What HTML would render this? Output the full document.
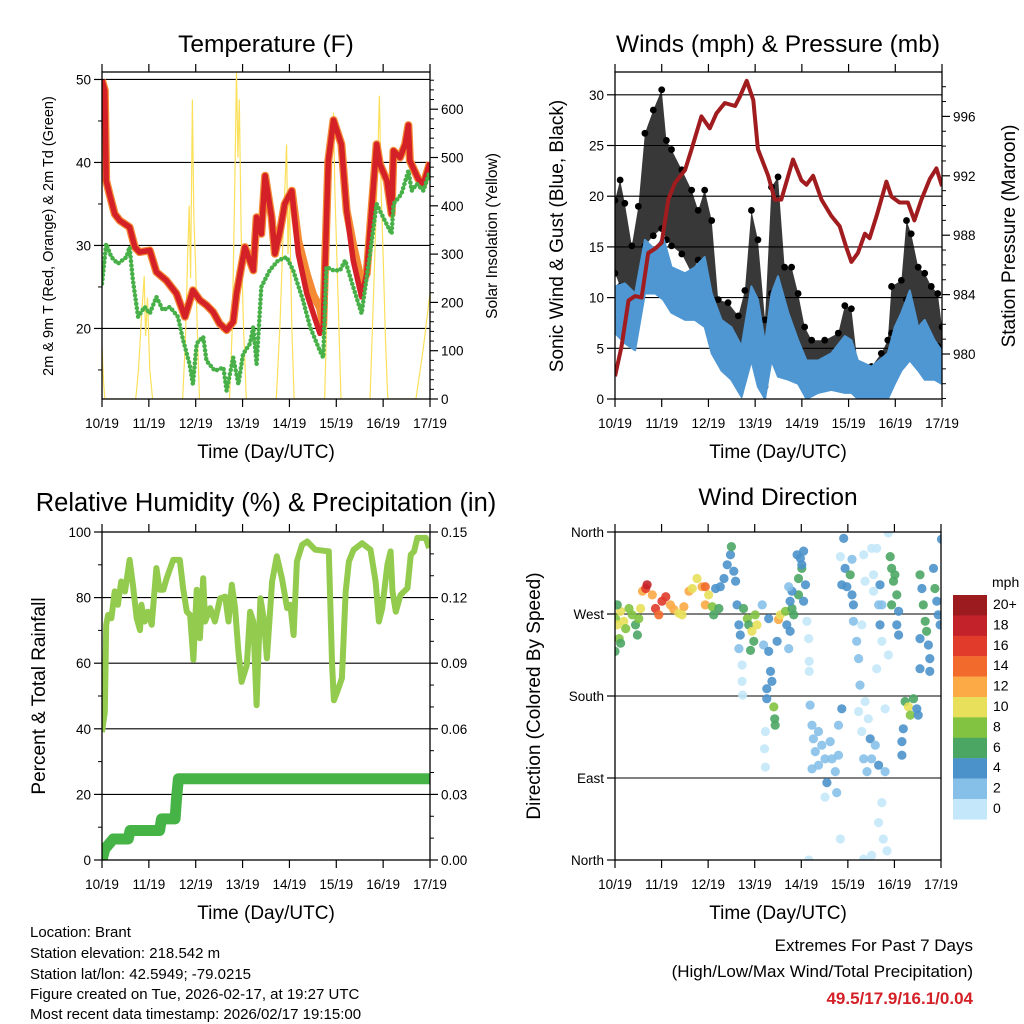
<!DOCTYPE html>
<html><head><meta charset="utf-8"><style>
html,body{margin:0;padding:0;background:#fff;}
svg{display:block;font-family:"Liberation Sans",sans-serif;}
</style></head><body>
<svg id="chart" width="1024" height="1024" viewBox="0 0 1024 1024" xmlns="http://www.w3.org/2000/svg">
<defs>
<clipPath id="cp1"><rect x="102" y="72" width="328" height="327"/></clipPath>
<clipPath id="cp2"><rect x="615" y="72" width="327" height="327"/></clipPath>
<clipPath id="cp3"><rect x="102" y="532" width="328" height="328"/></clipPath>
<clipPath id="cp4"><rect x="615" y="532" width="326" height="328"/></clipPath>
</defs>
<g id="g1"></g>
<g id="g2"></g>
<g id="g3"></g>
<g id="g4"></g>
<text x="266" y="52" font-size="24.5" text-anchor="middle">Temperature (F)</text>
<text x="778" y="52" font-size="24.5" text-anchor="middle">Winds (mph) &amp; Pressure (mb)</text>
<text x="266" y="511" font-size="25.5" text-anchor="middle">Relative Humidity (%) &amp; Precipitation (in)</text>
<text x="778" y="505" font-size="24.5" text-anchor="middle">Wind Direction</text>
<text x="266" y="458" font-size="19" text-anchor="middle">Time (Day/UTC)</text>
<text x="778" y="458" font-size="19" text-anchor="middle">Time (Day/UTC)</text>
<text x="266" y="919" font-size="19" text-anchor="middle">Time (Day/UTC)</text>
<text x="778" y="919" font-size="19" text-anchor="middle">Time (Day/UTC)</text>
<text transform="translate(53,236) rotate(-90)" font-size="14.5" text-anchor="middle">2m &amp; 9m T (Red, Orange) &amp; 2m Td (Green)</text>
<text transform="translate(497,236) rotate(-90)" font-size="15.5" text-anchor="middle">Solar Insolation (Yellow)</text>
<text transform="translate(563,236) rotate(-90)" font-size="19" text-anchor="middle">Sonic Wind &amp; Gust (Blue, Black)</text>
<text transform="translate(1015,236) rotate(-90)" font-size="19" text-anchor="middle">Station Pressure (Maroon)</text>
<text transform="translate(45,696) rotate(-90)" font-size="19" text-anchor="middle">Percent &amp; Total Rainfall</text>
<text transform="translate(540,696) rotate(-90)" font-size="19" text-anchor="middle">Direction (Colored By Speed)</text>
<g font-size="15">
<text x="30" y="937">Location: Brant</text>
<text x="30" y="958">Station elevation: 218.542 m</text>
<text x="30" y="979">Station lat/lon: 42.5949; -79.0215</text>
<text x="30" y="999">Figure created on Tue, 2026-02-17, at 19:27 UTC</text>
<text x="30" y="1019">Most recent data timestamp: 2026/02/17 19:15:00</text>
</g>
<text x="973" y="951" font-size="17" text-anchor="end">Extremes For Past 7 Days</text>
<text x="973" y="977" font-size="17" text-anchor="end">(High/Low/Max Wind/Total Precipitation)</text>
<text x="973" y="1004" font-size="17" font-weight="bold" fill="#d42027" text-anchor="end">49.5/17.9/16.1/0.04</text>
<g id="cbar"></g>
<text x="992" y="587" font-size="14">mph</text>
</svg>
<script>
// ---------- data ----------
const xDays = ["10/19","11/19","12/19","13/19","14/19","15/19","16/19","17/19"];
const tempDay = [0,.06,.09,.16,.27,.38,.59,.70,.80,1.02,1.16,1.37,1.59,1.77,1.94,2.09,2.23,2.37,2.51,2.66,2.80,2.87,3.05,3.23,3.30,3.40,3.48,3.62,3.69,3.80,3.90,4.05,4.19,4.37,4.51,4.65,4.72,4.83,4.94,5.11,5.22,5.36,5.54,5.65,5.86,5.93,6.08,6.18,6.22,6.36,6.47,6.54,6.57,6.75,6.86,7.0];
const temp2m = [49.9,48.7,37.8,36.2,33.8,33.0,32.2,29.8,29.2,29.4,26.8,25.8,24.2,21.4,24.6,23.4,22.8,22.0,20.6,19.8,20.8,24.2,29.8,27.0,33.4,31.4,38.4,33.4,29.0,31.8,35.0,36.6,29.0,24.2,21.8,19.4,20.2,40.2,45.1,42.2,34.2,28.2,23.8,26.6,42.2,39.8,37.8,33.8,41.4,40.6,42.2,44.5,40.2,38.0,37.4,40.0];
const temp9m = [49.9,48.7,37.8,36.2,33.8,33.0,32.2,29.8,29.2,29.4,26.8,25.8,24.2,21.4,24.6,23.4,22.8,22.0,20.6,19.8,20.8,24.2,29.8,27.0,33.4,31.4,38.4,33.4,29.0,31.8,35.0,36.6,30.5,26.5,24.0,22.5,20.5,40.2,45.1,42.2,34.2,30.0,25.5,26.6,42.2,39.8,37.8,33.8,41.4,40.6,42.2,44.5,40.2,38.0,37.4,40.0];
const dewDay = [0,.09,.2,.34,.52,.59,.66,.77,.91,1.02,1.16,1.30,1.45,1.62,1.73,1.87,1.94,2.02,2.16,2.23,2.41,2.59,2.66,2.80,2.91,3.01,3.16,3.23,3.30,3.40,3.58,3.76,3.94,4.08,4.29,4.44,4.65,4.72,4.79,4.94,5.08,5.19,5.36,5.54,5.72,5.86,6.0,6.18,6.22,6.39,6.54,6.61,6.72,6.86,7.0];
const dewPt = [25.4,30.2,28.6,27.8,28.6,29.8,25.8,21.4,22.6,21.8,23.8,22.2,22.6,21.4,18.6,15.7,13.3,18.2,19.0,16.1,14.9,15.3,12.5,16.5,13.3,16.9,18.2,20.2,15.7,25.0,27.0,28.2,28.6,27.0,23.4,20.2,17.3,16.5,27.4,27.0,27.0,28.2,25.0,21.8,29.0,35.0,33.4,31.4,35.0,36.2,39.0,36.6,37.4,36.6,39.0];
const solarDay = [0,.03,.06,.72,.78,.85,.9,.93,.97,1.02,1.08,1.72,1.78,1.83,1.86,1.89,1.93,1.96,2.0,2.04,2.08,2.72,2.78,2.83,2.87,2.9,2.93,2.97,3.02,3.08,3.72,3.8,3.88,3.94,3.97,4.0,4.05,4.1,4.75,4.82,4.9,4.94,4.97,5.04,5.1,5.72,5.8,5.88,5.92,5.96,6.0,6.05,6.1,6.7,6.85,6.95,7.0];
const solarVal = [110,40,0,0,60,180,254,130,210,60,0,0,120,300,400,250,620,380,270,120,0,0,150,420,680,500,620,340,150,0,0,160,380,527,300,420,150,0,0,250,500,593,430,200,0,0,230,480,628,420,300,120,0,0,100,180,220];
const tempTicks = [20,30,40,50];
const solarTicks = [0,100,200,300,400,500,600];

const presDay = [0,.14,.29,.43,.57,.71,.86,1.0,1.14,1.28,1.50,1.64,1.85,2.03,2.17,2.35,2.57,2.67,2.82,2.96,3.06,3.28,3.42,3.56,3.81,3.99,4.10,4.24,4.42,4.63,4.81,4.95,5.06,5.2,5.35,5.45,5.6,5.81,5.92,6.09,6.27,6.41,6.56,6.74,6.88,7.0];
const presVal = [978.5,980.5,983.6,983.9,983.8,986.8,987.1,987.5,990.4,991.5,992.4,993.8,996.0,995.2,996.2,996.9,996.7,997.3,998.4,997.1,993.8,992.0,990.4,990.4,993.1,991.7,991.4,992.0,990.4,989.3,988.6,987.2,986.2,986.8,988.1,987.8,989.3,991.6,990.6,990.2,990.2,989.0,990.4,991.8,992.5,991.3];
const windDay = [0,.21,.43,.64,.86,1.03,1.21,1.50,1.71,1.92,2.07,2.28,2.49,2.71,2.92,3.06,3.21,3.35,3.49,3.71,3.92,4.10,4.35,4.63,4.92,5.06,5.2,5.49,5.84,5.99,6.13,6.31,6.49,6.63,6.84,6.99];
const windHi = [11.1,11.4,10.4,15.7,14.7,16.0,13.0,12.4,13.0,14.0,10.4,7.8,7.1,5.2,11.1,9.8,5.5,10.4,12.1,8.5,5.8,3.8,3.8,4.5,6.2,5.8,3.8,3.2,4.5,7.1,8.5,10.7,7.1,7.8,5.8,4.8];
const windLo = [6.5,5.5,4.8,10.4,10.4,9.8,8.5,7.8,7.8,7.1,4.5,2.8,1.9,0.2,3.8,1.2,0,3.8,2.2,1.9,1.5,0,0.6,0.9,0.6,0.6,0,0,0,1.5,2.8,3.8,2.8,1.9,1.9,1.5];
const gustDay = [0,.11,.21,.36,.50,.64,.82,1.0,1.10,1.21,1.43,1.64,1.78,1.92,2.07,2.21,2.42,2.64,2.78,2.92,3.06,3.21,3.35,3.49,3.63,3.78,3.92,4.06,4.21,4.49,4.78,4.92,5.06,5.2,5.49,5.70,5.84,5.92,6.13,6.24,6.34,6.49,6.63,6.77,6.91,7.0];
const gustHi = [19.6,21.6,19.3,15.1,19.0,26.2,28.5,30.5,25.5,24.6,22.6,20.6,18.6,20.6,17.6,9.8,9.5,8.2,10.7,18.6,15.7,7.8,20.9,21.9,13.0,13.0,10.4,7.1,5.8,5.8,6.5,9.2,8.9,3.2,3.2,4.5,5.8,11.1,11.7,17.6,16.3,13.0,12.4,11.1,10.4,7.1];
const gustLo = [12.4,11.1,10.4,9.8,10.4,15.1,16.1,16.8,15.7,15.1,14.3,12.4,13.7,10.4,8.5,6.1,5.2,3.8,2.5,7.8,5.2,1.2,10.4,9.8,7.1,5.5,4.5,3.2,1.9,1.9,2.5,4.5,3.8,1.9,0.9,0.9,1.9,6.5,6.5,9.8,8.5,7.1,6.5,5.5,5.2,4.5];
const windTicks = [0,5,10,15,20,25,30];
const presTicks = [980,984,988,992,996];

const rhDay = [0,.06,.09,.13,.2,.27,.34,.41,.49,.59,.66,.74,.81,.84,.91,.98,1.06,1.16,1.23,1.31,1.38,1.52,1.66,1.73,1.81,1.88,1.95,2.02,2.09,2.16,2.2,2.31,2.41,2.52,2.63,2.7,2.77,2.84,2.91,2.98,3.09,3.16,3.23,3.3,3.38,3.45,3.52,3.63,3.73,3.84,3.95,4.02,4.09,4.16,4.27,4.38,4.55,4.84,4.91,4.95,5.02,5.12,5.2,5.27,5.37,5.55,5.73,5.84,5.91,5.98,6.09,6.16,6.2,6.27,6.37,6.52,6.59,6.66,6.73,6.91,6.98];
const rhVal = [39,45,71.7,74.7,73.7,81.9,77.8,84.9,81.9,91.5,83.9,73.7,70.1,77.8,72.7,75.7,71.7,89,82.4,82.4,85.9,91.5,91.5,82.9,75.7,74.7,61,82.4,67.6,85.9,72.7,76.8,72.7,79.8,80.3,72.7,83.9,76.8,63.5,54.3,59.4,75.7,72.7,47.2,79.8,73.7,61.5,84.9,92.6,85.9,76.8,77.8,68.6,91,96.1,97.1,94.6,94.1,59.4,48.7,51.3,55.4,81.9,91,94.6,96.6,94.6,84.9,72.7,76.8,90,94.1,81.9,75.7,80.8,82.9,93.1,94.1,98.2,98.2,95.1];
const rainDay = [0,0.06,0.24,0.56,0.6,1.23,1.27,1.56,1.59,1.63,7.0];
const rainVal = [0,0.005,0.0096,0.0096,0.0135,0.0135,0.0188,0.0188,0.028,0.0372,0.0372];
const rhTicks = [0,20,40,60,80,100];
const rainTicks = ["0.00","0.03","0.06","0.09","0.12","0.15"];

const dirNames = ["North","East","South","West","North"];
const dirDay = [.01,.05,.09,.12,.19,.23,.3,.37,.44,.51,.55,.05,0,.12,.48,
.59,.66,.69,.8,.87,.94,1.01,1.09,1.19,1.26,1.37,1.48,1.59,1.66,1.76,1.87,1.94,2.01,1.94,2.09,1.44,
2.16,2.26,2.34,2.41,2.48,2.5,2.55,2.59,2.23,2.12,
2.62,2.66,2.69,2.76,2.84,2.87,2.94,2.98,3.01,3.05,2.91,2.66,2.73,2.73,2.74,
3.16,3.19,3.3,3.3,3.34,3.37,3.26,3.26,3.41,3.43,3.44,3.23,3.21,3.23,3.48,3.51,3.55,3.66,3.69,3.76,3.73,3.8,3.84,3.76,
3.91,3.98,4.05,4.01,3.94,4.09,3.94,4.05,3.8,3.73,4.01,
4.12,4.16,4.17,4.17,4.19,4.23,4.26,4.3,4.37,4.44,4.51,4.55,4.62,4.66,4.73,4.8,4.87,4.8,4.76,4.23,4.37,4.51,4.84,4.16,
4.91,4.94,4.98,5.05,5.09,5.12,4.84,5.09,4.87,
5.12,5.19,5.23,5.3,5.34,5.37,5.51,5.55,5.62,5.55,5.66,5.69,5.73,5.62,5.87,5.26,5.37,5.44,5.48,5.51,5.34,5.41,5.59,5.8,5.66,5.73,5.66,5.76,5.34,5.51,5.84,5.87,5.8,5.23,5.3,
5.91,5.94,5.98,6.01,6.05,6.09,6.05,5.94,6.09,5.69,5.73,
6.23,6.3,6.34,6.41,6.48,6.51,6.19,6.16,6.16,
6.55,6.59,6.62,6.66,6.69,6.73,6.76,6.55,6.55,6.76,6.84,6.87,6.91,6.94,6.98,7.01];
const dirDeg = [265,258,243,273,262,254,276,269,258,265,276,280,229,238,247,
295,298,302,291,276,269,284,289,280,275,271,278,295,298,309,300,300,291,280,278,269,
298,300,309,324,335,344,317,306,276,269,
280,258,247,276,265,258,251,240,269,258,230,232,214,196,181,
280,236,265,229,207,196,188,177,168,155,148,141,122,102,240,264,269,273,258,251,232,276,269,284,
335,331,339,320,309,302,291,284,295,300,324,
262,243,218,207,170,148,133,119,141,126,111,85,130,111,97,115,166,148,74,100,104,69,23,0,
353,320,300,313,291,280,333,330,302,
262,240,221,258,335,306,342,313,342,295,280,258,240,210,225,192,174,155,133,111,111,97,126,97,104,63,41,23,1,5,10,359,166,163,141,
333,320,306,313,291,273,258,280,247,302,280,
174,168,159,177,166,159,144,130,115,
313,298,280,262,251,236,221,243,210,207,320,298,284,269,258,352];
const dirSpd = [8,10,8,10,10,9,8,9,6,8,10,6,6,6,7,
12,16,18,13,16,14,17,16,12,12,10,12,12,10,10,12,15,10,13,9,10,
4,4,4,4,5,6,4,4,6,6,
4,4,4,6,8,6,10,7,9,10,6,2,1,1,1,
2,2,5,4,4,4,4,4,9,6,6,1,1,1,4,12,10,9,4,4,2,6,6,4,
4,4,4,6,6,4,6,4,4,3,4,
0,0,0,0,2,2,2,2,2,3,2,4,2,3,2,2,4,3,3,2,3,1,1,0,
4,5,4,6,4,4,1,3,4,
2,2,2,1,0,1,0,0,0,1,2,4,1,1,1,2,1,1,4,2,2,2,2,3,4,1,1,1,1,1,1,0,1,1,1,
6,6,6,7,6,4,4,6,4,4,3,
6,10,8,6,4,4,4,4,4,
6,4,6,6,6,4,4,4,4,4,4,6,4,4,4,4];
const speedLabels = ["20+","18","16","14","12","10","8","6","4","2","0"];
const speedColors = ["#9c1b1f","#c4222a","#e03b2b","#f26a2c","#fbaa45","#e8e05a","#82c341","#4ba664","#4b92cb","#86c0e8","#c4e8f9"];

// ---------- helpers ----------
const NS = "http://www.w3.org/2000/svg";
function mk(tag, attrs, parent, name) {
  const el = document.createElementNS(NS, tag);
  for (const k in attrs) el.setAttribute(k, attrs[k]);
  
  
  parent.appendChild(el);
  return el;
}
function linear(d0, d1, r0, r1) { return v => r0 + (v - d0) / (d1 - d0) * (r1 - r0); }
function pathOf(xs, ys, X, Y) { return xs.map((d, i) => (i ? "L" : "M") + X(d).toFixed(1) + "," + Y(ys[i]).toFixed(1)).join(""); }
function bandOf(xs, hi, lo, X, Y) {
  let s = xs.map((d, i) => (i ? "L" : "M") + X(d).toFixed(1) + "," + Y(hi[i]).toFixed(1)).join("");
  for (let i = xs.length - 1; i >= 0; i--) s += "L" + X(xs[i]).toFixed(1) + "," + Y(lo[i]).toFixed(1);
  return s + "Z";
}
function frame(g, L, R, T, B, X, name) {
  mk("rect", {x: L, y: T, width: R - L, height: B - T, fill: "none", stroke: "#000", "stroke-width": 1.3}, g, name + "-frame");
  xDays.forEach((lab, i) => {
    const x = X(i);
    mk("line", {x1: x, x2: x, y1: B, y2: B + 8, stroke: "#000", "stroke-width": 1.2}, g, "x-tick");
    mk("line", {x1: x, x2: x, y1: T, y2: T - 8, stroke: "#000", "stroke-width": 1.2}, g, "x-tick-top");
    const t = mk("text", {x: x, y: B + 29, "font-size": 13.5, "text-anchor": "middle"}, g, "x-tick-label");
    t.textContent = lab;
  });
}
function leftAxis(g, L, R, ticks, Y, labels, grid, minor) {
  ticks.forEach((v, i) => {
    const y = Y(v);
    if (grid) mk("line", {x1: L, x2: R, y1: y, y2: y, stroke: "#000", "stroke-width": 1.1}, g, "gridline");
    mk("line", {x1: L - 8, x2: L, y1: y, y2: y, stroke: "#000", "stroke-width": 1.2}, g, "y-tick");
    const t = mk("text", {x: L - 11, y: y + 5, "font-size": 13.5, "text-anchor": "end"}, g, "y-tick-label");
    t.textContent = labels ? labels[i] : v;
  });
  if (minor) minor.forEach(v => { const y = Y(v); mk("line", {x1: L - 4, x2: L, y1: y, y2: y, stroke: "#000"}, g, "y-minor-tick"); });
}
function rightAxis(g, R, ticks, Y, labels, minor) {
  ticks.forEach((v, i) => {
    const y = Y(typeof v === "string" ? parseFloat(v) : v);
    mk("line", {x1: R, x2: R + 8, y1: y, y2: y, stroke: "#000", "stroke-width": 1.2}, g, "right-tick");
    const t = mk("text", {x: R + 11, y: y + 5, "font-size": 13.5}, g, "right-tick-label");
    t.textContent = labels ? labels[i] : v;
  });
  if (minor) minor.forEach(v => { const y = Y(v); mk("line", {x1: R, x2: R + 4, y1: y, y2: y, stroke: "#000"}, g, "right-minor-tick"); });
}

// ---------- panel 1: temperature ----------
{
  const g = document.getElementById("g1");
  const X = linear(0, 7, 102, 430), Y = linear(11.5, 50.9, 399, 72), YS = linear(0, 100, 399, 350.7);
  leftAxis(g, 102, 430, tempTicks, Y, null, true, [15, 25, 35, 45]);
  rightAxis(g, 430, solarTicks, YS, null, [20,40,60,80,120,140,160,180,220,240,260,280,320,340,360,380,420,440,460,480,520,540,560,580,620,640,660]);
  const c = mk("g", {"clip-path": "url(#cp1)"}, g, "temperature-series");
  mk("path", {d: pathOf(solarDay, solarVal, X, YS), fill: "none", stroke: "#fbe05a", "stroke-width": 1.2}, c, "solar-insolation-line");
  mk("path", {d: pathOf(tempDay, temp9m, X, Y), fill: "none", stroke: "#f58a35", "stroke-width": 8, "stroke-linejoin": "round"}, c, "temp-9m-line");
  mk("path", {d: pathOf(tempDay, temp2m, X, Y), fill: "none", stroke: "#d42027", "stroke-width": 5.5, "stroke-linejoin": "round"}, c, "temp-2m-line");
  mk("path", {d: pathOf(dewDay, dewPt, X, Y), fill: "none", stroke: "#48b048", "stroke-width": 4.5, "stroke-dasharray": "0.1 4.2", "stroke-linecap": "round"}, c, "dewpoint-line");
  frame(g, 102, 430, 72, 399, X, "temperature");
}
// ---------- panel 2: winds ----------
{
  const g = document.getElementById("g2");
  const X = linear(0, 7, 615, 942), Y = linear(0, 1, 399, 388.86), YP = linear(980, 984, 354, 294.6);
  leftAxis(g, 615, 942, windTicks, Y, null, true, null);
  rightAxis(g, 942, presTicks, YP, null, [977,978,979,981,982,983,985,986,987,989,990,991,993,994,995,997,998]);
  const c = mk("g", {"clip-path": "url(#cp2)"}, g, "wind-series");
  mk("path", {d: bandOf(gustDay, gustHi, gustLo, X, Y), fill: "#000", "fill-opacity": 0.78, stroke: "none"}, c, "gust-band");
  gustDay.forEach((d, i) => {
    mk("circle", {cx: X(d), cy: Y(gustHi[i]), r: 3.4, fill: "#000"}, c, "gust-point");
  });
  gustDay.forEach((d, i) => {
    mk("circle", {cx: X(d), cy: Y(gustLo[i]), r: 3.4, fill: "#000"}, c, "gust-low-point");
  });
  mk("path", {d: bandOf(windDay, windHi, windLo, X, Y), fill: "#4f97d3", stroke: "#4f97d3", "stroke-width": 2, "stroke-linejoin": "round"}, c, "wind-speed-band");
  mk("path", {d: pathOf(presDay, presVal, X, YP), fill: "none", stroke: "#a01c1f", "stroke-width": 4, "stroke-linejoin": "round"}, c, "pressure-line");
  frame(g, 615, 942, 72, 399, X, "winds");
}
// ---------- panel 3: humidity ----------
{
  const g = document.getElementById("g3");
  const X = linear(0, 7, 102, 430), Y = linear(0, 100, 860, 532), YR = linear(0, 0.15, 860, 532);
  leftAxis(g, 102, 430, rhTicks, Y, null, true, [10,30,50,70,90]);
  rightAxis(g, 430, rainTicks, YR, null, [0.01,0.02,0.04,0.05,0.07,0.08,0.10,0.11,0.13,0.14]);
  const c = mk("g", {"clip-path": "url(#cp3)"}, g, "humidity-series");
  mk("path", {d: pathOf(rhDay, rhVal, X, Y), fill: "none", stroke: "#93cb4f", "stroke-width": 6, "stroke-linejoin": "round"}, c, "humidity-line");
  mk("path", {d: pathOf(rainDay, rainVal, X, YR), fill: "none", stroke: "#46b347", "stroke-width": 11, "stroke-linejoin": "round", "stroke-linecap": "round"}, c, "rainfall-line");
  frame(g, 102, 430, 532, 860, X, "humidity");
}
// ---------- panel 4: direction ----------
{
  const g = document.getElementById("g4");
  const X = linear(0, 7, 615, 941), Y = linear(0, 360, 860, 532);
  leftAxis(g, 615, 941, [0, 90, 180, 270, 360], Y, dirNames, true, null);
  const c = mk("g", {"clip-path": "url(#cp4)"}, g, "direction-series");
  dirDay.forEach((d, i) => {
    const idx = 10 - Math.min(10, Math.floor(dirSpd[i] / 2));
    mk("circle", {cx: X(d).toFixed(1), cy: Y(dirDeg[i]).toFixed(1), r: 4.6, fill: speedColors[idx], "fill-opacity": 0.9}, c, "direction-point");
  });
  frame(g, 615, 941, 532, 860, X, "direction");
}
// ---------- colorbar ----------
{
  const g = document.getElementById("cbar");
  speedLabels.forEach((lab, i) => {
    mk("rect", {x: 953, y: 595 + i * 20.4, width: 34, height: 20.6, fill: speedColors[i]}, g, "colorbar-swatch");
    const t = mk("text", {x: 993, y: 609 + i * 20.4, "font-size": 14}, g, "colorbar-label");
    t.textContent = lab;
  });
}
</script>
</body></html>
